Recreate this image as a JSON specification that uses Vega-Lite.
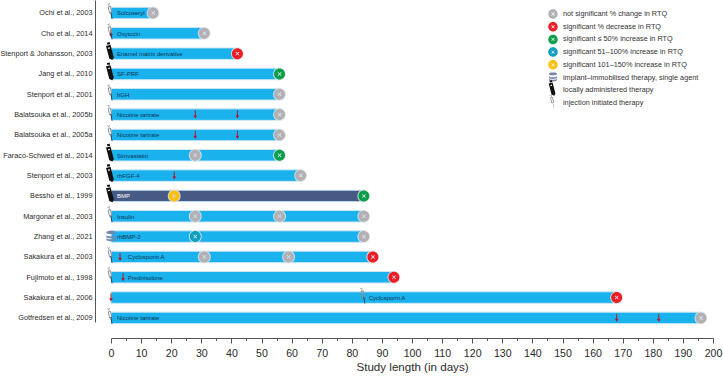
{"$schema":"https://vega.github.io/schema/vega-lite/v6.json","width":618,"height":338,"autosize":"none","padding":{"left":95,"top":0,"right":10,"bottom":38},"background":"white","config":{"view":{"stroke":null},"font":"Liberation Sans"},"datasets":{"bars":[{"study":"Ochi et al., 2003","start":0,"end":14,"therapy":"Solcoseryl","labelDay":2},{"study":"Cho et al., 2014","start":0,"end":31,"therapy":"Oxytocin","labelDay":2},{"study":"Stenport & Johansson, 2003","start":0,"end":42,"therapy":"Enamel matrix derivative","labelDay":2},{"study":"Jang et al., 2010","start":0,"end":56,"therapy":"SF-PRF","labelDay":2},{"study":"Stenport et al., 2001","start":0,"end":56,"therapy":"hGH","labelDay":2},{"study":"Balatsouka et al., 2005b","start":0,"end":56,"therapy":"Nicotine tartrate","labelDay":2},{"study":"Balatsouka et al., 2005a","start":0,"end":56,"therapy":"Nicotine tartrate","labelDay":2},{"study":"Faraco-Schwed et al., 2014","start":0,"end":56,"therapy":"Simvastatin","labelDay":2},{"study":"Stenport et al., 2003","start":0,"end":63,"therapy":"rhFGF-4","labelDay":2},{"study":"Bessho et al., 1999","start":0,"end":84,"therapy":"BMP","labelDay":2},{"study":"Margonar et al., 2003","start":0,"end":84,"therapy":"Insulin","labelDay":2},{"study":"Zhang et al., 2021","start":0,"end":84,"therapy":"rhBMP-2","labelDay":2},{"study":"Sakakura et al., 2003","start":0,"end":87,"therapy":"Cyclosporin A","labelDay":5.6},{"study":"Fujimoto et al., 1998","start":0,"end":94,"therapy":"Prednisolone","labelDay":5.6},{"study":"Sakakura et al., 2006","start":0,"end":168,"therapy":"Cyclosporin A","labelDay":85.6},{"study":"Gotfredsen et al., 2009","start":0,"end":196,"therapy":"Nicotine tartrate","labelDay":2}],"events":[{"study":"Ochi et al., 2003","day":14,"kind":"not significant % change in RTQ"},{"study":"Cho et al., 2014","day":31,"kind":"not significant % change in RTQ"},{"study":"Stenport & Johansson, 2003","day":42,"kind":"significant % decrease in RTQ"},{"study":"Jang et al., 2010","day":56,"kind":"significant ≤ 50% increase in RTQ"},{"study":"Stenport et al., 2001","day":56,"kind":"not significant % change in RTQ"},{"study":"Balatsouka et al., 2005b","day":56,"kind":"not significant % change in RTQ"},{"study":"Balatsouka et al., 2005a","day":56,"kind":"not significant % change in RTQ"},{"study":"Faraco-Schwed et al., 2014","day":28,"kind":"not significant % change in RTQ"},{"study":"Faraco-Schwed et al., 2014","day":56,"kind":"significant ≤ 50% increase in RTQ"},{"study":"Stenport et al., 2003","day":63,"kind":"not significant % change in RTQ"},{"study":"Bessho et al., 1999","day":21,"kind":"significant 101–150% increase in RTQ"},{"study":"Bessho et al., 1999","day":84,"kind":"significant ≤ 50% increase in RTQ"},{"study":"Margonar et al., 2003","day":28,"kind":"not significant % change in RTQ"},{"study":"Margonar et al., 2003","day":56,"kind":"not significant % change in RTQ"},{"study":"Margonar et al., 2003","day":84,"kind":"not significant % change in RTQ"},{"study":"Zhang et al., 2021","day":28,"kind":"significant 51–100% increase in RTQ"},{"study":"Zhang et al., 2021","day":84,"kind":"not significant % change in RTQ"},{"study":"Sakakura et al., 2003","day":31,"kind":"not significant % change in RTQ"},{"study":"Sakakura et al., 2003","day":59,"kind":"not significant % change in RTQ"},{"study":"Sakakura et al., 2003","day":87,"kind":"significant % decrease in RTQ"},{"study":"Fujimoto et al., 1998","day":94,"kind":"significant % decrease in RTQ"},{"study":"Sakakura et al., 2006","day":168,"kind":"significant % decrease in RTQ"},{"study":"Gotfredsen et al., 2009","day":196,"kind":"not significant % change in RTQ"},{"study":"Ochi et al., 2003","day":0,"kind":"injection initiated therapy"},{"study":"Cho et al., 2014","day":0,"kind":"injection initiated therapy"},{"study":"Stenport et al., 2001","day":0,"kind":"injection initiated therapy"},{"study":"Balatsouka et al., 2005b","day":0,"kind":"injection initiated therapy"},{"study":"Balatsouka et al., 2005a","day":0,"kind":"injection initiated therapy"},{"study":"Margonar et al., 2003","day":0,"kind":"injection initiated therapy"},{"study":"Sakakura et al., 2003","day":0,"kind":"injection initiated therapy"},{"study":"Fujimoto et al., 1998","day":0,"kind":"injection initiated therapy"},{"study":"Sakakura et al., 2006","day":84,"kind":"injection initiated therapy"},{"study":"Gotfredsen et al., 2009","day":0,"kind":"injection initiated therapy"},{"study":"Stenport & Johansson, 2003","day":0,"kind":"locally administered therapy"},{"study":"Jang et al., 2010","day":0,"kind":"locally administered therapy"},{"study":"Faraco-Schwed et al., 2014","day":0,"kind":"locally administered therapy"},{"study":"Stenport et al., 2003","day":0,"kind":"locally administered therapy"},{"study":"Bessho et al., 1999","day":0,"kind":"locally administered therapy"},{"study":"Zhang et al., 2021","day":0,"kind":"implant–immobilised therapy, single agent"}],"doses":[{"study":"Cho et al., 2014","day":0},{"study":"Balatsouka et al., 2005b","day":28},{"study":"Balatsouka et al., 2005b","day":42},{"study":"Balatsouka et al., 2005a","day":28},{"study":"Balatsouka et al., 2005a","day":42},{"study":"Stenport et al., 2003","day":21},{"study":"Sakakura et al., 2003","day":3},{"study":"Fujimoto et al., 1998","day":4},{"study":"Sakakura et al., 2006","day":0},{"study":"Gotfredsen et al., 2009","day":168},{"study":"Gotfredsen et al., 2009","day":182}]},"encoding":{"y":{"field":"study","type":"nominal","sort":null,"title":null,"scale":{"type":"point","domain":["Ochi et al., 2003","Cho et al., 2014","Stenport & Johansson, 2003","Jang et al., 2010","Stenport et al., 2001","Balatsouka et al., 2005b","Balatsouka et al., 2005a","Faraco-Schwed et al., 2014","Stenport et al., 2003","Bessho et al., 1999","Margonar et al., 2003","Zhang et al., 2021","Sakakura et al., 2003","Fujimoto et al., 1998","Sakakura et al., 2006","Gotfredsen et al., 2009"],"range":[0,322],"padding":0.42,"align":0.76},"axis":{"domainColor":"#555555","domainWidth":1,"ticks":false,"labelFontSize":7.3,"labelColor":"#2b2b2b","labelPadding":3,"labelFont":"Liberation Sans","grid":false}},"x":{"field":"day","type":"quantitative","title":"Study length (in days)","scale":{"domain":[0,200],"range":[16,618],"nice":false,"zero":false},"axis":{"values":[0,5,10,15,20,25,30,35,40,45,50,55,60,65,70,75,80,85,90,95,100,105,110,115,120,125,130,135,140,145,150,155,160,165,170,175,180,185,190,195,200],"labelExpr":"datum.value % 10 === 0 ? datum.label : ''","labelOverlap":false,"labelFlush":false,"labelFontSize":10.6,"labelColor":"#2b2b2b","labelPadding":5,"domainColor":"#555555","tickColor":"#555555","tickSize":{"condition":{"test":"datum.value % 10 === 0","value":5},"value":2.5},"grid":false,"titleFontSize":11.6,"titleFontWeight":"normal","titleColor":"#2b2b2b","titlePadding":3}}},"layer":[{"data":{"name":"bars"},"mark":{"type":"bar","height":11.5,"stroke":"#cfe7f5","strokeWidth":1},"encoding":{"x":{"field":"start","type":"quantitative","title":"Study length (in days)"},"x2":{"field":"end"},"color":{"condition":{"test":"datum.therapy === 'BMP'","value":"#465a85"},"value":"#19b2ec"}}},{"data":{"name":"bars"},"mark":{"type":"text","align":"left","baseline":"middle","fontSize":6,"dy":0.5},"encoding":{"x":{"field":"labelDay","type":"quantitative"},"text":{"field":"therapy"},"color":{"condition":{"test":"datum.therapy === 'BMP'","value":"#ffffff"},"value":"#0b3556"}}},{"data":{"name":"events"},"transform":[{"filter":"indexof(datum.kind,'RTQ') >= 0"}],"mark":{"type":"point","shape":"circle","filled":true,"size":170,"fill":"#e8e8e8","opacity":0.85},"encoding":{"x":{"field":"day","type":"quantitative"}}},{"data":{"name":"doses"},"mark":{"type":"point","filled":true,"size":64,"opacity":1,"fill":"#b5122b","shape":"M-.12,-1L.12,-1L.12,.2L.45,.2L0,1L-.45,.2L-.12,.2Z"},"encoding":{"x":{"field":"day","type":"quantitative"}}},{"data":{"name":"events"},"mark":{"type":"point","filled":true,"size":121,"opacity":1},"encoding":{"x":{"field":"day","type":"quantitative"},"color":{"field":"kind","type":"nominal","scale":{"domain":["not significant % change in RTQ","significant % decrease in RTQ","significant ≤ 50% increase in RTQ","significant 51–100% increase in RTQ","significant 101–150% increase in RTQ","implant–immobilised therapy, single agent","locally administered therapy","injection initiated therapy"],"range":["#b3b0b5","#ee1c25","#0a9e4b","#0e9fc0","#fcc010","#7484ab","#111111","#8d9499"]},"legend":{"title":null,"orient":"none","legendX":453,"legendY":9,"labelFontSize":7.3,"labelColor":"#333333","symbolSize":90,"symbolStrokeWidth":0,"rowPadding":-7.3,"labelOffset":5,"labelLimit":220,"values":["not significant % change in RTQ","significant % decrease in RTQ","significant ≤ 50% increase in RTQ","significant 51–100% increase in RTQ","significant 101–150% increase in RTQ","implant–immobilised therapy, single agent","locally administered therapy","injection initiated therapy"]}},"shape":{"field":"kind","type":"nominal","scale":{"domain":["not significant % change in RTQ","significant % decrease in RTQ","significant ≤ 50% increase in RTQ","significant 51–100% increase in RTQ","significant 101–150% increase in RTQ","implant–immobilised therapy, single agent","locally administered therapy","injection initiated therapy"],"range":["M0,-2.6L0,-2.6ZM0,1.3L0,1.3ZM-1,0A1,1 0 1,1 1,0A1,1 0 1,1 -1,0ZM0,-.1L-.26,-.36L-.36,-.26L-.1,0L-.36,.26L-.26,.36L0,.1L.26,.36L.36,.26L.1,0L.36,-.26L.26,-.36Z","M0,-2.6L0,-2.6ZM0,1.3L0,1.3ZM-1,0A1,1 0 1,1 1,0A1,1 0 1,1 -1,0ZM0,-.1L-.26,-.36L-.36,-.26L-.1,0L-.36,.26L-.26,.36L0,.1L.26,.36L.36,.26L.1,0L.36,-.26L.26,-.36Z","M0,-2.6L0,-2.6ZM0,1.3L0,1.3ZM-1,0A1,1 0 1,1 1,0A1,1 0 1,1 -1,0ZM0,-.1L-.26,-.36L-.36,-.26L-.1,0L-.36,.26L-.26,.36L0,.1L.26,.36L.36,.26L.1,0L.36,-.26L.26,-.36Z","M0,-2.6L0,-2.6ZM0,1.3L0,1.3ZM-1,0A1,1 0 1,1 1,0A1,1 0 1,1 -1,0ZM0,-.1L-.26,-.36L-.36,-.26L-.1,0L-.36,.26L-.26,.36L0,.1L.26,.36L.36,.26L.1,0L.36,-.26L.26,-.36Z","M0,-2.6L0,-2.6ZM0,1.3L0,1.3ZM-1,0A1,1 0 1,1 1,0A1,1 0 1,1 -1,0ZM0,-.1L-.26,-.36L-.36,-.26L-.1,0L-.36,.26L-.26,.36L0,.1L.26,.36L.36,.26L.1,0L.36,-.26L.26,-.36Z","M0,-2.6L0,-2.6ZM0,1.3L0,1.3ZM-.85,-.75C-.85,-1.15 .85,-1.15 .85,-.75C.85,-.35 -.85,-.35 -.85,-.75ZM-.85,-.33C-.85,.07 .85,.07 .85,-.33L.85,.02C.85,.42 -.85,.42 -.85,.02ZM-.85,.2C-.85,.6 .85,.6 .85,.2L.85,.55C.85,.95 -.85,.95 -.85,.55Z","M0,-2.6L0,-2.6ZM0,1.3L0,1.3ZM-.75,-2L-.25,-2.1L-.15,-1.72L-.65,-1.62ZM-.91,-1.4L-.09,-1.6L.51,.7L.25,1.15L-.31,.9ZM-.5,-1.1L-.55,-.85L-.2,-.95L-.25,-1.18Z","M0,-2.6L0,-2.6ZM0,1.3L0,1.3ZM-.61,-1.13L-.03,-1.27L.24,-.07L-.34,.07ZM-.4,-1.04L-.2,-.1L.03,-.16L-.17,-1.1ZM-.25,-1.21L-.38,-1.76L-.52,-1.74L-.39,-1.19ZM-.68,-1.7L-.22,-1.8L-.19,-1.66L-.65,-1.56ZM-.09,0L.03,0L.24,1.1L.17,1.1Z"]},"legend":null}}},{"data":{"name":"events"},"transform":[{"filter":"datum.kind === 'injection initiated therapy'"}],"mark":{"type":"point","filled":true,"size":121,"opacity":1,"fill":"#12385a","shape":"M-.12,-.1L.06,-.15L.26,1.1L.14,1.1Z"},"encoding":{"x":{"field":"day","type":"quantitative"}}}]}
